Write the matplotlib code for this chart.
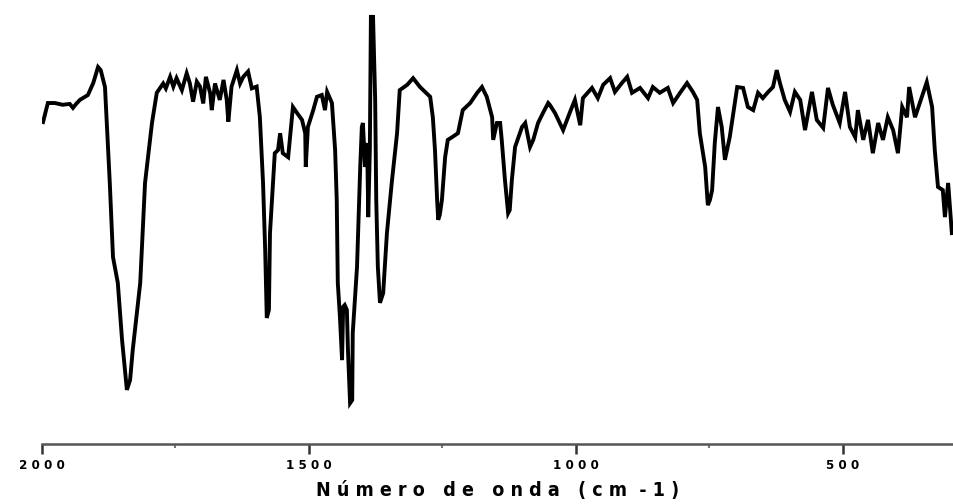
import matplotlib
matplotlib.use("Agg")
import matplotlib.pyplot as plt
from matplotlib.ticker import FixedLocator

plt.rcParams['font.family'] = ['DejaVu Sans']

# IR spectrum: wavenumber (cm-1) and transmittance (%)
wavenumber = [
    1998, 1989, 1976, 1961, 1948, 1942, 1936, 1929, 1914, 1904, 1895, 1890, 1882,
    1873, 1867, 1858, 1850, 1841, 1835, 1830, 1816, 1807, 1794, 1785, 1773, 1768,
    1760, 1754, 1748, 1738, 1729, 1723, 1717, 1710, 1704, 1698, 1693, 1685, 1682,
    1676, 1667, 1660, 1654, 1651, 1645, 1635, 1629, 1623, 1614, 1607, 1598, 1592,
    1586, 1582, 1579, 1575, 1573, 1564, 1558, 1554, 1549, 1539, 1530, 1522, 1513,
    1507, 1506, 1502, 1492, 1485, 1476, 1470, 1466, 1457, 1451, 1448, 1446, 1442,
    1438, 1436, 1433, 1429, 1427, 1423, 1419, 1418, 1410, 1404, 1401, 1399, 1395,
    1391, 1389, 1386, 1384, 1380, 1376, 1374, 1371, 1367, 1361, 1354, 1345, 1335,
    1330, 1316, 1305, 1292, 1273, 1268, 1264, 1260, 1258, 1255, 1251, 1245, 1240,
    1232, 1221, 1212, 1198, 1185, 1176, 1167, 1157, 1155, 1148, 1142, 1139, 1133,
    1127, 1124, 1120, 1114, 1101, 1095, 1086, 1080, 1071, 1062, 1052, 1049, 1039,
    1024, 1011, 1002, 992, 987, 970, 959, 949, 936, 927, 914, 904, 895, 880, 865,
    856, 843, 828, 818, 805, 792, 781, 773, 768, 758, 753, 749, 745, 740, 734, 727,
    721, 712, 698, 687, 678, 668, 659, 650, 640, 631, 624, 618, 609, 599, 590, 580,
    571, 558, 549, 537, 528, 519, 506, 496, 487, 477, 472, 462, 453, 444, 434, 425,
    416, 406, 397, 389, 380, 376, 365, 356, 343, 333, 328, 322, 313, 309, 303, 296,
]
transmittance = [
    72.5, 76.8, 76.8, 76.4, 76.6, 75.7, 76.6, 77.5, 78.6, 81.3, 84.9, 84.2, 80.4,
    58.8, 42.1, 36.3, 23.4, 12.2, 14.4, 21.2, 36.3, 58.8, 72.3, 79.1, 81.2, 80.1,
    82.7, 80.5, 82.4, 79.7, 83.5, 81.2, 77.1, 81.6, 80.5, 76.7, 82.7, 79.0, 75.2,
    81.2, 77.5, 82.0, 77.5, 72.6, 80.5, 84.2, 81.2, 82.7, 83.9, 80.1, 80.5, 73.7,
    58.8, 43.7, 28.4, 30.2, 47.5, 65.5, 66.2, 70.0, 65.5, 64.6, 75.9, 74.5, 73.0,
    70.0, 62.4, 71.4, 75.2, 78.2, 78.6, 75.2, 79.3, 76.8, 66.2, 55.0, 36.3, 28.6,
    18.9, 30.9, 31.3, 30.2, 21.2, 9.2, 9.9, 25.0, 39.9, 62.4, 71.4, 72.3, 62.4,
    67.8, 51.1, 66.2, 96.2, 96.2, 77.5, 55.0, 39.9, 31.8, 34.0, 47.5, 58.8, 70.0,
    79.7, 80.9, 82.4, 80.4, 78.2, 73.6, 66.2, 55.0, 50.5, 51.6, 55.0, 64.6, 68.5,
    69.1, 70.0, 75.2, 76.8, 79.1, 80.4, 78.2, 73.6, 68.5, 72.3, 72.3, 68.5, 59.5,
    52.0, 52.7, 59.5, 66.9, 71.4, 72.3, 66.9, 68.5, 72.3, 74.5, 76.8, 76.4, 74.5,
    70.7, 74.8, 77.5, 71.8, 77.9, 80.2, 77.9, 80.9, 82.4, 79.3, 81.3, 82.7, 79.1,
    80.2, 77.9, 80.4, 79.1, 80.2, 76.8, 79.1, 81.3, 79.3, 77.5, 70.0, 62.4, 53.8,
    55.0, 57.2, 67.8, 75.9, 71.4, 64.0, 69.1, 80.4, 80.2, 75.9, 75.2, 79.1, 77.9,
    79.3, 80.4, 84.2, 81.3, 77.5, 74.8, 79.3, 77.5, 70.7, 79.3, 73.0, 71.2, 80.2,
    76.4, 72.3, 79.3, 71.4, 69.1, 75.2, 68.5, 73.0, 65.5, 72.3, 68.5, 73.6, 70.7,
    65.5, 75.9, 73.6, 80.4, 73.6, 76.8, 81.5, 75.9, 66.2, 57.9, 57.2, 51.1, 58.8,
    47.5,
]

major_ticks = [2000, 1500, 1000, 500]
major_labels = ["2 0 0 0", "1 5 0 0", "1 0 0 0", "5 0 0"]
minor_ticks = [1750, 1250, 750]

fig = plt.figure(figsize=(9.54, 5.04), dpi=100)
ax = fig.add_axes([0.044, 0.119, 0.956, 0.881])

ax.plot(wavenumber, transmittance, color="black", lw=2.8, solid_joinstyle="miter")

ax.set_xlim(2000, 292)
ax.set_ylim(0, 100)

for side in ("top", "right", "left"):
    ax.spines[side].set_visible(False)
ax.spines["bottom"].set_color("#555555")
ax.spines["bottom"].set_linewidth(1.8)

ax.set_yticks([])
ax.xaxis.set_major_locator(FixedLocator(major_ticks))
ax.set_xticklabels(major_labels)
ax.xaxis.set_minor_locator(FixedLocator(minor_ticks))
ax.tick_params(axis="x", which="major", direction="out", length=7, width=1.8,
               color="#333333", pad=4, labelsize=9.5)
ax.tick_params(axis="x", which="minor", direction="out", length=3, width=1.5,
               color="#777777")
for lbl in ax.get_xticklabels():
    lbl.set_fontweight("bold")
    lbl.set_fontstretch("condensed")

ax.set_xlabel("N ú m e r o   d e   o n d a   ( c m  - 1 )", fontsize=14,
              fontweight="bold", fontstretch="condensed", labelpad=6)

fig.savefig("out.png", dpi=100, facecolor="white")
